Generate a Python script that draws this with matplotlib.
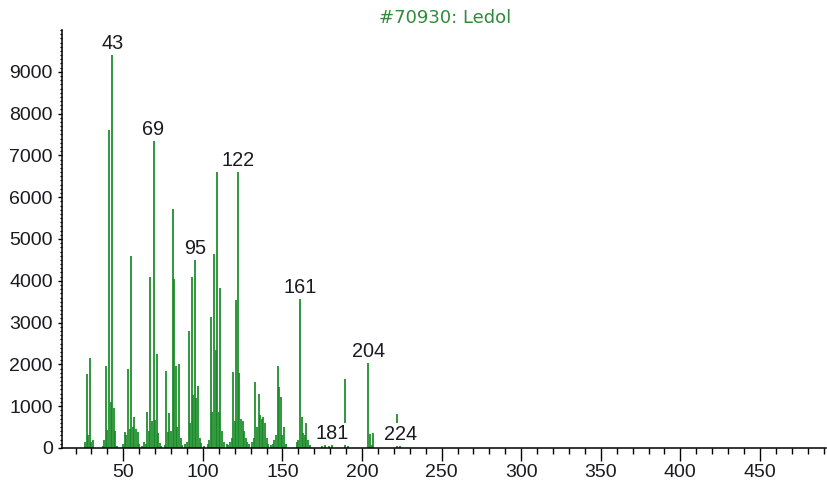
import matplotlib
matplotlib.use("Agg")
import matplotlib.pyplot as plt
from matplotlib.ticker import MultipleLocator

# ---- data (m/z, intensity) ----
mz = [26, 27, 28, 29, 30, 31,
      37, 38, 39, 40, 41, 42, 43, 44, 45, 46,
      50, 51, 52, 53, 54, 55, 56, 57, 58, 59, 60,
      62, 63, 64, 65, 66, 67, 68, 69, 70, 71, 72, 73, 74,
      76, 77, 78, 79, 80, 81, 82, 83, 84, 85, 86, 87,
      89, 90, 91, 92, 93, 94, 95, 96, 97, 98, 99, 101,
      103, 104, 105, 106, 107, 108, 109, 110, 111, 112, 113,
      115, 116, 117, 118, 119, 120, 121, 122, 123, 124, 125, 126, 127, 128, 129,
      131, 132, 133, 134, 135, 136, 137, 138, 139, 140, 141,
      143, 144, 145, 146, 147, 148, 149, 150, 151, 152,
      159, 160, 161, 162, 163, 164, 165, 166, 167,
      175, 177, 179, 181, 189, 191,
      204, 205, 206, 207, 222, 224]
intensity = [150, 1780, 300, 2150, 150, 200,
             50, 200, 1970, 430, 7600, 1100, 9400, 950, 400, 50,
             100, 380, 300, 1890, 450, 4600, 500, 740, 450, 380, 100,
             50, 150, 100, 850, 400, 4100, 650, 7350, 680, 2250, 350, 120, 50,
             80, 1850, 390, 840, 400, 5720, 4050, 1960, 500, 2000, 250, 80,
             100, 150, 2800, 600, 4100, 1260, 4500, 1200, 1480, 250, 120, 50,
             100, 200, 3140, 870, 4650, 2340, 6610, 870, 3820, 400, 150,
             100, 80, 150, 250, 1820, 650, 3540, 6610, 1800, 700, 650, 400, 250, 150, 100,
             150, 250, 1590, 500, 1300, 800, 700, 750, 600, 250, 100,
             80, 100, 180, 300, 1970, 1470, 1230, 300, 510, 100,
             150, 200, 3560, 750, 350, 300, 590, 200, 80,
             50, 60, 50, 60, 1640, 40,
             2040, 340, 80, 360, 810, 40]

label_mz = [43, 69, 95, 122, 161, 181, 204, 224]
x_ticks = [50, 100, 150, 200, 250, 300, 350, 400, 450]
y_ticks = [0, 1000, 2000, 3000, 4000, 5000, 6000, 7000, 8000, 9000]
title = "#70930: Ledol"

GREEN = "#178a26"
TXT = "#1a1a22"

plt.rcParams['font.family'] = ['Liberation Sans', 'DejaVu Sans']

fig = plt.figure(figsize=(8.28, 4.82), dpi=100)
ax = fig.add_axes([62/828, 34/482, 764/828, 418/482])

ax.vlines(mz, 0, intensity, colors=GREEN, lw=1.25, zorder=2)

lookup = dict(zip(mz, intensity))
for m in label_mz:
    ax.annotate(str(m), xy=(m, lookup.get(m, 0)), xytext=(0, 6),
                textcoords='offset pixels', ha='center', va='baseline',
                fontsize=14.3, color=TXT, zorder=4,
                bbox=dict(boxstyle='square,pad=0.1', fc='white', ec='none'))

ax.set_xlim(11.5, 491.5)
ax.set_ylim(0, 10000)
ax.set_xticks(x_ticks)
ax.set_yticks(y_ticks)
ax.xaxis.set_minor_locator(MultipleLocator(10))
ax.yaxis.set_minor_locator(MultipleLocator(100))

for s in ['top', 'right']:
    ax.spines[s].set_visible(False)
for s in ['left', 'bottom']:
    ax.spines[s].set_linewidth(1.1)
    ax.spines[s].set_color('black')

ax.tick_params(axis='x', which='major', length=9.4, width=1.0, pad=2.4,
               labelsize=14, labelcolor=TXT, direction='out')
ax.tick_params(axis='x', which='minor', length=4.3, width=1.0, direction='out')
ax.tick_params(axis='y', which='major', length=3.2, width=1.0, pad=3.4,
               labelsize=14, labelcolor=TXT, direction='out')
ax.tick_params(axis='y', which='minor', length=1.8, width=0.9, direction='out')

fig.text(445/828, 1 - 23/482, title, ha='center', va='baseline',
         fontsize=13, color='#2f8a3a', family='DejaVu Sans')

fig.savefig('out.png', dpi=100, facecolor='white')
